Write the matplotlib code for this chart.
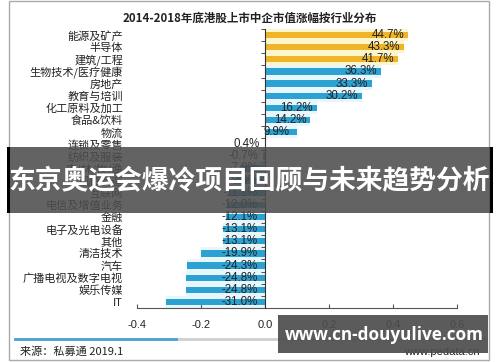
import matplotlib.pyplot as plt
from matplotlib.patches import Rectangle
from matplotlib.lines import Line2D

plt.rcParams['font.family'] = ['Noto Sans CJK SC', 'DejaVu Sans']
plt.rcParams['axes.unicode_minus'] = False

# ---------------- data ----------------
industries = ['能源及矿产', '半导体', '建筑/工程', '生物技术/医疗健康', '房地产',
              '教育与培训', '化工原料及加工', '食品&饮料', '物流', '连锁及零售',
              '纺织及服装', '农/林/牧/渔', '机械制造', '互联网', '电信及增值业务',
              '金融', '电子及光电设备', '其他', '清洁技术', '汽车',
              '广播电视及数字电视', '娱乐传媒', 'IT']
growth = [0.447, 0.433, 0.417, 0.363, 0.333, 0.302, 0.162, 0.142, 0.099, 0.004,
          -0.007, -0.079, -0.089, -0.111, -0.120, -0.121, -0.131, -0.131, -0.199,
          -0.243, -0.248, -0.248, -0.310]
top_n = 3
xticks = [-0.4, -0.2, 0.0, 0.2, 0.4, 0.6]
xtick_labels = ['-0.4', '-0.2', '0.0', '0.2', '0.4', '0.6']

title = '2014-2018年底港股上市中企市值涨幅按行业分布'
banner = '东京奥运会爆冷项目回顾与未来趋势分析'
source = '来源：私募通 2019.1'
site = 'www.pedata.cn'
watermark = 'www.cn-douyulive.com'

W, H = 500, 362


def px(x, y):
    return x / W, 1 - y / H


fig = plt.figure(figsize=(5, 3.62), dpi=100, facecolor='white')
ax = fig.add_axes([137 / W, 1 - 308 / H, 320 / W, 279 / H])

n = len(industries)
rows = list(range(n))
light = ['#fdf5cc' if i < top_n else '#e8f6fb' for i in rows]
dark = ['#f0b429' if i < top_n else '#2ba2d2' for i in rows]
ax.barh(rows, growth, height=1.0, color=light, zorder=1)
ax.barh(rows, growth, height=0.52, color=dark, zorder=2)

for i, v in enumerate(growth):
    txt = '%.1f%%' % (v * 100)
    if v >= 0:
        ax.annotate(txt, (v, i), xytext=(-20, 0), textcoords='offset pixels',
                    ha='center', va='center', fontsize=8.3, color='#222',
                    family='Liberation Sans', zorder=3)
    else:
        ax.annotate(txt, (0, i), xytext=(-7, 0), textcoords='offset pixels',
                    ha='right', va='center', fontsize=8.3, color='#222',
                    family='Liberation Sans', zorder=3)

ax.set_xlim(-0.4, 0.6)
ax.set_ylim(n - 0.5, -0.5)

# axes styling
for s in ['top', 'right']:
    ax.spines[s].set_visible(False)
ax.spines['left'].set_position(('data', 0))
ax.spines['left'].set_color('#333')
ax.spines['left'].set_zorder(4)
ax.spines['bottom'].set_color('#555')
ax.set_yticks(rows)
ax.set_yticks([i - 0.5 for i in rows] + [n - 0.5], minor=True)
ax.tick_params(axis='y', which='major', length=0, labelleft=False)
ax.tick_params(axis='y', which='minor', length=3, direction='out', color='#333')
ax.set_xticks(xticks)
ax.set_xticklabels(xtick_labels, family='Liberation Sans')
ax.tick_params(axis='x', direction='in', length=3, pad=9, labelsize=8,
               color='#555', labelcolor='#222')

sec = ax.secondary_yaxis('left')
sec.set_yticks(rows, labels=industries)
sec.tick_params(length=0, pad=10, labelsize=8, colors='#222')
sec.spines['left'].set_visible(False)

# title and footer
fig.text(*px(250, 18), title, ha='center', va='center', fontsize=8.3,
         weight='bold', color='#222')
fig.text(*px(20, 352), source, ha='left', va='center', fontsize=8, color='#222')
fig.text(*px(480, 352), site, ha='right', va='center', fontsize=8,
         family='Liberation Sans', color='#222')

# frame around the picture
fig.patches.append(Rectangle(px(9, 360), 480 / W, 359 / H, transform=fig.transFigure,
                             fill=False, edgecolor='#aaaaaa', linewidth=1))

# video progress bar
fig.lines.append(Line2D([px(176, 0)[0], px(485, 0)[0]], [px(0, 339)[1]] * 2,
                        transform=fig.transFigure, color='#cfcfcf', linewidth=2))
fig.lines.append(Line2D([px(15, 0)[0], px(176, 0)[0]], [px(0, 339)[1]] * 2,
                        transform=fig.transFigure, color='#4a9fd0', linewidth=2))

# banner over the chart
fig.patches.append(Rectangle(px(7, 213), 486 / W, 66 / H, transform=fig.transFigure,
                             facecolor='#4d4d4d', alpha=0.88, edgecolor='none', zorder=10))
fig.patches.append(Rectangle(px(7, 213), 3 / W, 66 / H, transform=fig.transFigure,
                             facecolor='black', edgecolor='none', zorder=11))
fig.patches.append(Rectangle(px(490, 213), 3 / W, 66 / H, transform=fig.transFigure,
                             facecolor='black', edgecolor='none', zorder=11))
fig.text(*px(249, 181), banner, ha='center', va='center', fontsize=19.3,
         weight='bold', color='white', zorder=12)

# watermark box
fig.patches.append(Rectangle(px(278, 353), 210 / W, 38 / H, transform=fig.transFigure,
                             facecolor='#4d4d4d', alpha=0.92, edgecolor='none', zorder=10))
fig.text(*px(384, 335), watermark, ha='center', va='center', fontsize=12.3,
         weight='bold', color='white', family='Open Sans', zorder=12)

fig.savefig('out.png', dpi=100)
